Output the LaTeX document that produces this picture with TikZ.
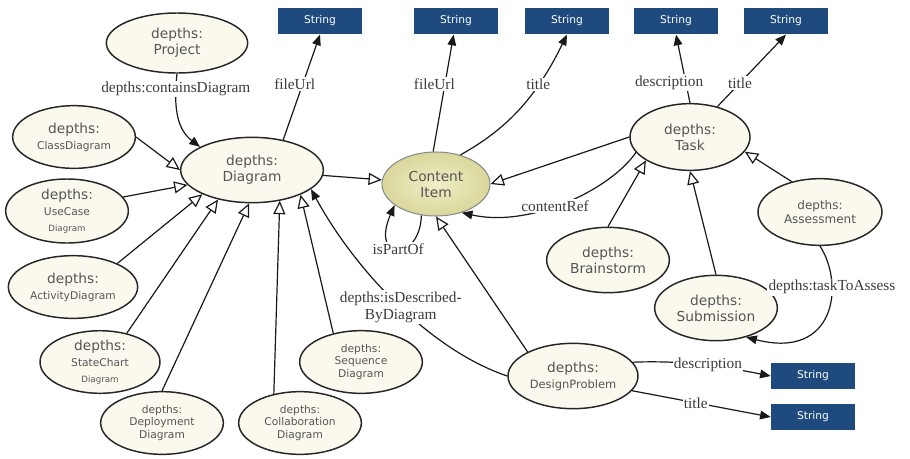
\documentclass[tikz,border=0pt]{standalone}
\usepackage{fontspec}
\setmainfont{Liberation Serif}
\newfontfamily\ellfont{DejaVu Sans}
\usetikzlibrary{arrows.meta,shapes.geometric}
\definecolor{conceptfill}{HTML}{FBF9EE}
\definecolor{itemin}{HTML}{EFEEC6}
\definecolor{itemout}{HTML}{D9D79B}
\definecolor{literalblue}{HTML}{1F4A7E}
\definecolor{textgrey}{HTML}{555555}
\definecolor{labelgrey}{HTML}{3C3C3C}
\newcommand{\smtxt}{\fontsize{8}{9.6}\selectfont}
\newcommand{\tinytxt}{\fontsize{6.5}{7.8}\selectfont}
\tikzset{
  concept/.style={ellipse, draw=black!85, line width=1.1pt, fill=conceptfill,
                  text=textgrey, align=center, inner sep=0pt,
                  minimum width=92pt, minimum height=47pt,
                  font=\ellfont\fontsize{10.3}{12}\selectfont},
  literal/.style={rectangle, fill=literalblue, text=white, inner sep=0pt,
                  minimum width=63pt, minimum height=20pt,
                  font=\ellfont\fontsize{8}{9.6}\selectfont},
  rel/.style={-{Triangle[length=8pt,width=6.5pt]}, line width=0.9pt, draw=black!90},
  isa/.style={-{Triangle[open,length=10pt,width=9pt]}, line width=0.9pt, draw=black!90},
  lbl/.style={fill=white, inner sep=1pt, text=labelgrey, align=center,
              font=\fontsize{11.5}{12.5}\selectfont},
}

\begin{document}
\begin{tikzpicture}[x=0.75pt, y=-0.75pt]
\useasboundingbox (0,0) rectangle (910,458);
% literals
\node[literal] (s1) at (320,21) {String};
\node[literal] (s2) at (456,21) {String};
\node[literal] (s3) at (567,21) {String};
\node[literal] (s4) at (676,21) {String};
\node[literal] (s5) at (786,21) {String};
\node[literal] (s6) at (813,376) {String};
\node[literal] (s7) at (813,417) {String};
% classes
\node[concept, minimum width=106pt, minimum height=45pt] (proj) at (177,43) {depths:\\Project};
\node[concept] (cls) at (74,137) {depths:\\\smtxt ClassDiagram};
\node[concept, minimum height=48pt] (uc) at (67,211) {depths:\\\smtxt UseCase\\\tinytxt Diagram};
\node[concept, minimum width=97pt] (act) at (73,287) {depths:\\\smtxt ActivityDiagram};
\node[concept, minimum width=107pt, minimum height=49pt] (dgm) at (252,170) {depths:\\Diagram};
\node[concept, minimum width=90pt, minimum height=46pt] (sc) at (100,362) {depths:\\\smtxt StateChart\\\tinytxt Diagram};
\node[concept, font=\ellfont\smtxt] (dep) at (162,423) {depths:\\Deployment\\Diagram};
\node[concept, font=\ellfont\smtxt] (col) at (300,423) {depths:\\Collaboration\\Diagram};
\node[concept, font=\ellfont\smtxt] (seq) at (361,362) {depths:\\Sequence\\Diagram};
\node[concept, minimum width=81pt, minimum height=48pt, draw=black!45, line width=0.8pt,
      inner color=itemin, outer color=itemout] (ci) at (436,184) {Content\\Item};
\node[concept, minimum width=90pt, minimum height=50pt] (task) at (690,137) {depths:\\Task};
\node[concept, minimum width=93pt, minimum height=50pt, font=\ellfont\fontsize{9}{11}\selectfont] (asmt) at (820,212) {depths:\\Assessment};
\node[concept, minimum height=49pt] (bs) at (608,260) {depths:\\Brainstorm};
\node[concept, minimum height=49pt] (sub) at (716,308) {depths:\\Submission};
\node[concept, minimum width=97.5pt, minimum height=49pt] (dp) at (573,376) {depths:\\\fontsize{8.6}{10}\selectfont DesignProblem};
% subclasses
\draw[isa] (cls.east) -- (dgm.west);
\draw[isa] (uc.14) -- (dgm.193);
\draw[isa] (act.28) -- (dgm.206);
\draw[isa] (sc.47) -- (dgm.221);
\draw[isa] (dep.north) -- (dgm.265);
\draw[isa] (col.132) -- (dgm.-48);
\draw[isa] (seq.134) -- (dgm.-27);
\draw[isa] (dgm) -- (ci);
\draw[isa] (task.west) -- (ci.east);
\draw[isa] (dp.152) -- (ci.south);
\draw[isa] (bs.north) -- (task.208);
\draw[isa] (sub.north) -- (task.south);
\draw[isa] (asmt.133) -- (task.-15);
% properties
\draw[rel] (proj.south) .. controls (173,110) and (178,130) .. node[lbl, pos=0.15] {depths:containsDiagram} (dgm.156);
\draw[rel] (dgm.44) -- node[lbl, pos=0.53, xshift=-6pt] {fileUrl} (s1.south);
\draw[rel] (ci.95) -- node[lbl, pos=0.58, xshift=-8pt] {fileUrl} (s2.-100);
\draw[rel] (ci.50) .. controls (505,130) and (535,100) .. node[lbl, pos=0.7] {title} (s3.south);
\draw[rel] (task.north) -- node[lbl, pos=0.3, xshift=-12.5pt] {description} (s4.south);
\draw[rel] (task.48) -- node[lbl, pos=0.33] {title} (s5.south);
\draw[rel] (task.196) .. controls (610,190) and (530,228) .. node[lbl, pos=0.55] {contentRef} (ci.-48);
\draw[rel] (ci.245) .. controls (420,262) and (370,262) .. node[lbl, pos=0.5] {isPartOf} (ci.207);
\draw[rel] (dp.west) .. controls (430,350) and (355,270) .. node[lbl, pos=0.48] {depths:isDescribed-\\ByDiagram} (dgm.-18);
\draw[rel] (dp.13) .. controls (690,360) and (730,368) .. node[lbl, pos=0.5] {description} (s6.west);
\draw[rel] (dp.-14) -- node[lbl, pos=0.46] {title} (s7.west);
\draw[rel] (asmt.south) .. controls (845,285) and (835,360) .. node[lbl, pos=0.3] {depths:taskToAssess} (sub.-44);
\end{tikzpicture}
\end{document}
